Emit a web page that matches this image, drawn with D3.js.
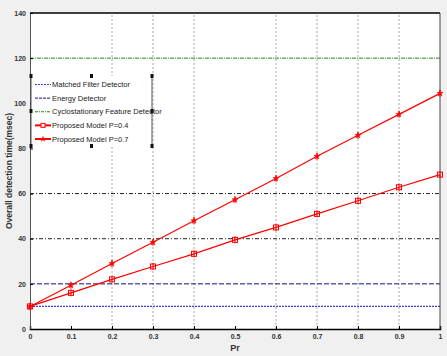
<!DOCTYPE html>
<html>
<head>
<meta charset="utf-8">
<script src="https://cdn.jsdelivr.net/npm/d3@7"></script>
<style>
  body { margin: 0; background: #f0f0f0; }
  svg { display: block; }
  .tick text { font-family: "Liberation Sans Narrow", "Liberation Sans", Arial, sans-serif; font-size: 7px; font-weight: bold; fill: #333; }
</style>
</head>
<body>
<svg id="chart"></svg>
<script>
// data
var pr = [0, 0.1, 0.2, 0.3, 0.4, 0.5, 0.6, 0.7, 0.8, 0.9, 1];
var modelP04 = [10, 16, 22, 27.7, 33.3, 39.5, 45, 51, 56.8, 62.8, 68.4];
var modelP07 = [10, 19.4, 29, 38.4, 48, 57.3, 66.7, 76.5, 85.8, 95.1, 104.4];
var matchedFilter = 10;
var energyDetector = 20;
var cyclostationary = 120;
var xTicks = [0, 0.1, 0.2, 0.3, 0.4, 0.5, 0.6, 0.7, 0.8, 0.9, 1];
var yTicks = [0, 20, 40, 60, 80, 100, 120, 140];
var xGrid = [0.2, 0.3, 0.4, 0.6, 0.7, 0.8, 0.9];
var yGrid = [40, 60];
var legendNames = ["Matched Filter Detector", "Energy Detector", "Cyclostationary Feature Detector",
                   "Proposed Model P=0.4", "Proposed Model P=0.7"];

var width = 447, height = 356;
var svg = d3.select("#chart").attr("width", width).attr("height", height);

var x = d3.scaleLinear().domain([0, 1]).range([30, 440]);
var y = d3.scaleLinear().domain([0, 140]).range([329, 13]);

// white plot area
svg.append("rect")
    .attr("x", x(0)).attr("y", y(140))
    .attr("width", x(1) - x(0)).attr("height", y(0) - y(140))
    .attr("fill", "#fff");

// grid lines
svg.selectAll(".vgrid").data(xGrid).enter().append("line")
    .attr("x1", function (d) { return x(d); }).attr("x2", function (d) { return x(d); })
    .attr("y1", y(0)).attr("y2", y(140))
    .attr("stroke", "#aaa").attr("stroke-width", 1).attr("stroke-dasharray", "2,2");

svg.selectAll(".hgrid").data(yGrid).enter().append("line")
    .attr("x1", x(0)).attr("x2", x(1))
    .attr("y1", function (d) { return y(d); }).attr("y2", function (d) { return y(d); })
    .attr("stroke", "#222").attr("stroke-width", 1).attr("stroke-dasharray", "4,2,1,2");

// constant detectors
svg.append("line").attr("x1", x(0)).attr("x2", x(1))
    .attr("y1", y(matchedFilter)).attr("y2", y(matchedFilter))
    .attr("stroke", "#3b3bd0").attr("stroke-width", 1.2).attr("stroke-dasharray", "2,1");
svg.append("line").attr("x1", x(0)).attr("x2", x(1))
    .attr("y1", y(energyDetector)).attr("y2", y(energyDetector))
    .attr("stroke", "#10106e").attr("stroke-width", 1).attr("stroke-dasharray", "5,2");
svg.append("line").attr("x1", x(0)).attr("x2", x(1))
    .attr("y1", y(cyclostationary)).attr("y2", y(cyclostationary))
    .attr("stroke", "#1a8a1a").attr("stroke-width", 1).attr("stroke-dasharray", "4,1,1,1");

// axes
var xAxis = d3.axisBottom(x).tickValues(xTicks).tickSize(-3).tickPadding(5)
    .tickFormat(function (d) { return d === 0 || d === 1 ? d3.format("d")(d) : d3.format(".1f")(d); });
svg.append("g").attr("transform", "translate(0," + y(0) + ")").call(xAxis)
    .call(function (g) { g.select(".domain").attr("stroke", "#000").attr("stroke-width", 1.5); });

var yAxis = d3.axisLeft(y).tickValues(yTicks).tickSize(-3).tickPadding(4);
svg.append("g").attr("transform", "translate(" + x(0) + ",0)").call(yAxis)
    .call(function (g) { g.select(".domain").attr("stroke", "#555"); });

// top and right border
svg.append("line").attr("x1", x(0)).attr("x2", x(1)).attr("y1", y(140)).attr("y2", y(140))
    .attr("stroke", "#000").attr("stroke-width", 1.5);
svg.append("line").attr("x1", x(1)).attr("x2", x(1)).attr("y1", y(140)).attr("y2", y(0))
    .attr("stroke", "#444");

// proposed model lines
var line = d3.line()
    .x(function (d) { return x(d[0]); })
    .y(function (d) { return y(d[1]); });

function series(values, marker) {
    var pts = pr.map(function (p, i) { return [p, values[i]]; });
    svg.append("path").datum(pts)
        .attr("d", line).attr("fill", "none")
        .attr("stroke", "#f00").attr("stroke-width", 1.2);
    var g = svg.append("g").selectAll("g").data(pts).enter().append("g")
        .attr("transform", function (d) { return "translate(" + x(d[0]) + "," + y(d[1]) + ")"; });
    g.append("line").attr("x1", 0).attr("x2", 0).attr("y1", -3.5).attr("y2", 3.5)
        .attr("stroke", "#f00").attr("stroke-width", 1);
    if (marker === "square") {
        g.append("rect").attr("x", -2.5).attr("y", -2.5).attr("width", 5).attr("height", 5)
            .attr("fill", "none").attr("stroke", "#f00").attr("stroke-width", 1);
    } else {
        g.append("path").attr("d", d3.symbol(d3.symbolStar, 12))
            .attr("fill", "#f00").attr("stroke", "#f00").attr("stroke-width", 0.5);
    }
}
series(modelP04, "square");
series(modelP07, "star");

// labels
svg.append("text")
    .attr("transform", "translate(12," + ((y(0) + y(140)) / 2) + ") rotate(-90)")
    .attr("text-anchor", "middle")
    .style("font-family", "Liberation Sans, Arial, sans-serif")
    .style("font-size", "8.5px").style("font-weight", "bold").style("fill", "#333")
    .text("Overall detection time(msec)");

svg.append("text")
    .attr("x", x(0.5)).attr("y", 351)
    .attr("text-anchor", "middle")
    .style("font-family", "Liberation Sans, Arial, sans-serif")
    .style("font-size", "9px").style("font-weight", "bold").style("fill", "#333")
    .text("Pr");

// legend (box in edit mode with handles)
var lg = svg.append("g");
var lx0 = 31, lx1 = 152, ly0 = 76, ly1 = 146;
lg.append("rect").attr("x", lx0).attr("y", ly0).attr("width", lx1 - lx0).attr("height", ly1 - ly0)
    .attr("fill", "#fff").attr("stroke", "none");
[lx0, lx1].forEach(function (lx) {
    lg.append("line").attr("x1", lx).attr("x2", lx).attr("y1", ly0).attr("y2", ly1)
        .attr("stroke", "#555").attr("stroke-width", 1);
});
var handles = [[lx0, ly0], [(lx0 + lx1) / 2, ly0], [lx1, ly0], [lx0, (ly0 + ly1) / 2], [lx1, (ly0 + ly1) / 2],
               [lx0, ly1], [(lx0 + lx1) / 2, ly1], [lx1, ly1]];
lg.selectAll(".handle").data(handles).enter().append("rect")
    .attr("x", function (d) { return d[0] - 1.5; }).attr("y", function (d) { return d[1] - 2; })
    .attr("width", 3).attr("height", 4).attr("fill", "#111");

var legendStyles = [
    { stroke: "#3b3bd0", dash: "2,1", w: 1 },
    { stroke: "#10106e", dash: "3,1", w: 1 },
    { stroke: "#1a8a1a", dash: "3,1,1,1", w: 1 },
    { stroke: "#f00", dash: null, w: 2, marker: "square" },
    { stroke: "#f00", dash: null, w: 2, marker: "star" }
];
var rowY = d3.scaleLinear().domain([0, 4]).range([84.5, 139]);
var rows = lg.selectAll(".row").data(legendNames).enter().append("g")
    .attr("transform", function (d, i) { return "translate(0," + rowY(i) + ")"; });
rows.append("line").attr("x1", 35).attr("x2", 51).attr("y1", 0).attr("y2", 0)
    .attr("stroke", function (d, i) { return legendStyles[i].stroke; })
    .attr("stroke-width", function (d, i) { return legendStyles[i].w; })
    .attr("stroke-dasharray", function (d, i) { return legendStyles[i].dash; });
rows.filter(function (d, i) { return legendStyles[i].marker === "square"; })
    .append("rect").attr("x", 41).attr("y", -2).attr("width", 4).attr("height", 4)
    .attr("fill", "#fff").attr("stroke", "#f00");
rows.filter(function (d, i) { return legendStyles[i].marker === "star"; })
    .append("path").attr("transform", "translate(43,0)").attr("d", d3.symbol(d3.symbolStar, 14))
    .attr("fill", "#f00");
rows.append("text").attr("x", 52).attr("y", 0).attr("dy", "0.35em")
    .style("font-family", "Liberation Sans Narrow, Liberation Sans, Arial, sans-serif")
    .style("font-size", "7.5px").style("fill", "#222")
    .text(function (d) { return d; });
</script>
</body>
</html>
